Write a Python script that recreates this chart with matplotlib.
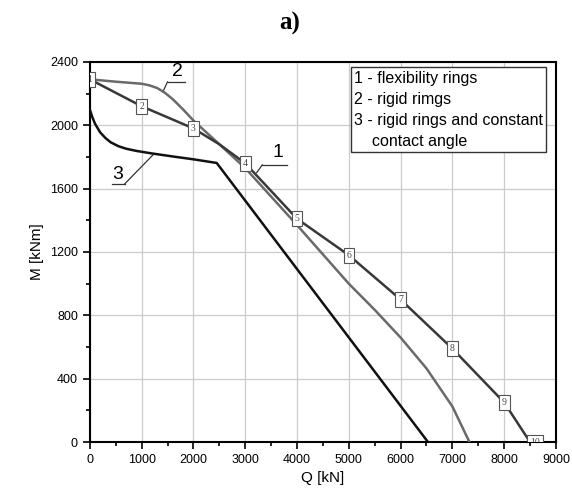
import matplotlib.pyplot as plt
from matplotlib.ticker import MultipleLocator

# curve 1 - flexibility rings (numbered points)
q1 = [0, 1000, 2000, 2500, 3000, 4000, 5000, 6000, 7000, 8000, 8500]
m1 = [2290, 2120, 1980, 1880, 1760, 1410, 1180, 900, 590, 250, 0]
pt_q = [0, 1000, 2000, 3000, 4000, 5000, 6000, 7000, 8000, 8600]
pt_m = [2290, 2120, 1980, 1760, 1410, 1180, 900, 590, 250, 0]
pt_lbl = ['1', '2', '3', '4', '5', '6', '7', '8', '9', '10']

# curve 2 - rigid rimgs
q2 = [0, 500, 1000, 1150, 1300, 1450, 1600, 1800, 2000, 2500, 3000, 4000,
      5000, 5500, 6000, 6500, 7000, 7330]
m2 = [2290, 2275, 2262, 2252, 2235, 2205, 2165, 2100, 2030, 1880, 1730, 1370,
      1000, 835, 660, 465, 225, 0]

# curve 3 - rigid rings and constant contact angle
q3 = [0, 50, 100, 200, 300, 400, 550, 700, 900, 1200, 1600, 2000, 2450, 6530]
m3 = [2100, 2050, 2010, 1955, 1920, 1893, 1868, 1852, 1838, 1822, 1803, 1785, 1762, 0]

legend_txt = "1 - flexibility rings\n2 - rigid rimgs\n3 - rigid rings and constant\n    contact angle"

plt.rcParams['font.family'] = ['Liberation Sans', 'DejaVu Sans']
fig = plt.figure(figsize=(5.72, 4.99), dpi=100)
ax = fig.add_axes([0.157, 0.114, 0.815, 0.762])

ax.plot(q3, m3, color='#111111', lw=1.8, zorder=3)
ax.plot(q2, m2, color='#6a6a6a', lw=1.8, zorder=3)
ax.plot(q1, m1, color='#383838', lw=1.8, zorder=4)

for q, m, s in zip(pt_q, pt_m, pt_lbl):
    ax.text(q, m, s, ha='center', va='center', fontsize=7, family='Liberation Serif',
            color='#444444', zorder=5, clip_on=True,
            bbox=dict(boxstyle='square,pad=0.3', fc='white', ec='#555555', lw=0.8))

# curve labels with leader lines
ax.text(3630, 1775, '1', fontsize=14, ha='center', va='bottom')
ax.plot([3330, 3800], [1750, 1750], color='#333333', lw=0.9)
ax.plot([3330, 3220], [1750, 1700], color='#333333', lw=0.9)

ax.text(1700, 2285, '2', fontsize=14, ha='center', va='bottom')
ax.plot([1500, 1830], [2274, 2274], color='#333333', lw=0.9)
ax.plot([1500, 1410], [2274, 2210], color='#333333', lw=0.9)

ax.text(540, 1635, '3', fontsize=14, ha='center', va='bottom')
ax.plot([425, 675], [1630, 1630], color='#333333', lw=0.9)
ax.plot([675, 1220], [1630, 1813], color='#333333', lw=0.9)

ax.text(0.567, 0.977, legend_txt, transform=ax.transAxes, fontsize=11.5, va='top', ha='left',
        linespacing=1.5, zorder=6,
        bbox=dict(boxstyle='square,pad=0.2', fc='white', ec='#333333', lw=1))

ax.set_xlim(0, 9000)
ax.set_ylim(0, 2400)
ax.xaxis.set_major_locator(MultipleLocator(1000))
ax.xaxis.set_minor_locator(MultipleLocator(500))
ax.yaxis.set_major_locator(MultipleLocator(400))
ax.yaxis.set_minor_locator(MultipleLocator(200))
ax.grid(True, which='major', color='#cccccc', lw=0.9)
ax.set_axisbelow(True)
ax.tick_params(which='both', direction='out', labelsize=9, width=1.2)
ax.tick_params(which='major', length=5)
ax.tick_params(which='minor', length=3)
for sp in ax.spines.values():
    sp.set_linewidth(1.5)

ax.set_xlabel('Q [kN]', fontsize=11, labelpad=4)
ax.set_ylabel('M [kNm]', fontsize=11, labelpad=4)
fig.text(0.507, 0.953, 'a)', fontsize=18, fontweight='bold', family='Liberation Serif',
         ha='center', va='center')

fig.savefig('out.png', dpi=100)
